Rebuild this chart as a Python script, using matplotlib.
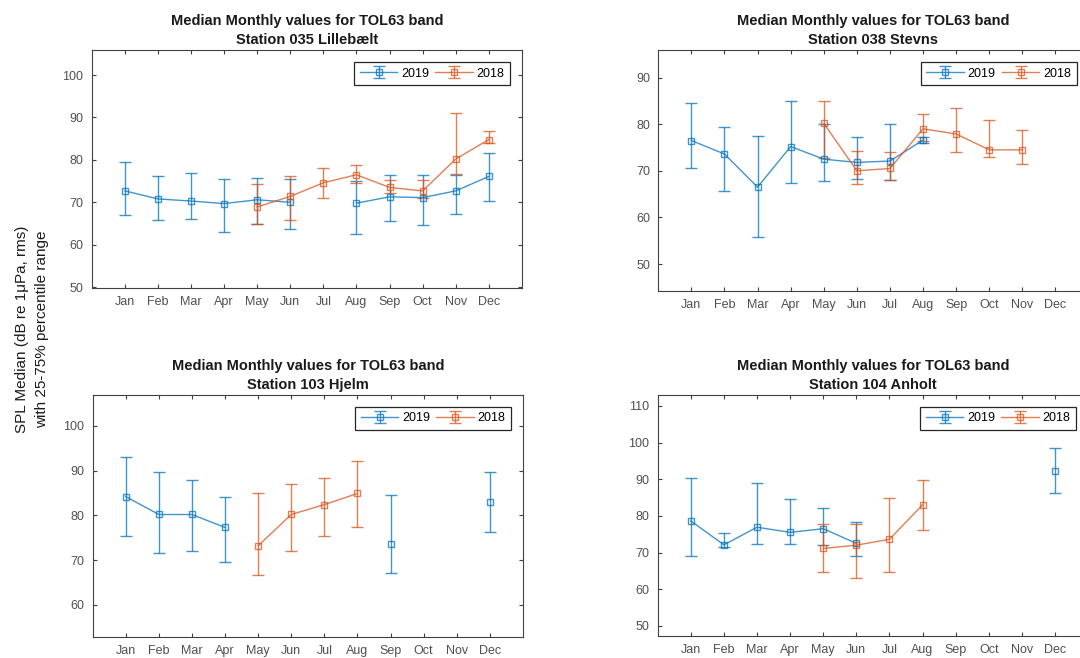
import matplotlib
matplotlib.use("Agg")
import matplotlib.pyplot as plt
import numpy as np

nan = np.nan
months = ['Jan', 'Feb', 'Mar', 'Apr', 'May', 'Jun', 'Jul', 'Aug', 'Sep', 'Oct', 'Nov', 'Dec']
month_num = np.arange(1, 13)

# Station 035 Lillebaelt
lil_med19 = [72.7, 70.8, 70.3, 69.7, 70.6, 70.0, nan, 69.8, 71.3, 71.1, 72.7, 76.1]
lil_lo19 = [66.9, 65.9, 66.1, 63.0, 64.8, 63.7, nan, 62.6, 65.6, 64.7, 67.3, 70.2]
lil_hi19 = [79.5, 76.3, 76.8, 75.6, 75.7, 75.4, nan, 75.0, 76.5, 76.5, 76.4, 81.6]
lil_med18 = [nan, nan, nan, nan, 68.9, 71.4, 74.6, 76.5, 73.5, 72.7, 80.2, 84.8]
lil_lo18 = [nan, nan, nan, nan, 64.8, 65.8, 71.1, 74.6, 72.1, 71.0, 76.6, 83.9]
lil_hi18 = [nan, nan, nan, nan, 74.4, 76.3, 78.1, 78.9, 75.2, 75.2, 91.0, 86.7]

# Station 038 Stevns
ste_med19 = [76.5, 73.6, 66.5, 75.2, 72.5, 71.8, 72.1, 76.6, nan, nan, nan, nan]
ste_lo19 = [70.6, 65.7, 55.8, 67.3, 67.9, 68.2, 68.0, 76.0, nan, nan, nan, nan]
ste_hi19 = [84.5, 79.5, 77.5, 84.9, 80.0, 77.2, 80.1, 77.2, nan, nan, nan, nan]
ste_med18 = [nan, nan, nan, nan, 80.2, 70.0, 70.5, 79.0, 77.9, 74.5, 74.5, nan]
ste_lo18 = [nan, nan, nan, nan, 72.7, 67.2, 68.0, 76.5, 74.1, 73.0, 71.5, nan]
ste_hi18 = [nan, nan, nan, nan, 84.9, 74.3, 74.0, 82.1, 83.4, 80.8, 78.8, nan]

# Station 103 Hjelm
hje_med19 = [84.2, 80.2, 80.2, 77.3, nan, nan, nan, nan, 73.6, nan, nan, 82.9]
hje_lo19 = [75.4, 71.7, 72.0, 69.6, nan, nan, nan, nan, 67.1, nan, nan, 76.2]
hje_hi19 = [93.0, 89.6, 87.9, 84.2, nan, nan, nan, nan, 84.5, nan, nan, 89.8]
hje_med18 = [nan, nan, nan, nan, 73.2, 80.2, 82.4, 84.9, nan, nan, nan, nan]
hje_lo18 = [nan, nan, nan, nan, 66.7, 72.1, 75.5, 77.4, nan, nan, nan, nan]
hje_hi18 = [nan, nan, nan, nan, 84.9, 87.1, 88.3, 92.1, nan, nan, nan, nan]

# Station 104 Anholt
anh_med19 = [78.6, 72.1, 76.9, 75.5, 76.5, 72.5, nan, nan, nan, nan, nan, 92.3]
anh_lo19 = [69.0, 71.5, 72.3, 72.2, 72.0, 69.0, nan, nan, nan, nan, nan, 86.2]
anh_hi19 = [90.4, 75.4, 89.1, 84.6, 82.1, 78.2, nan, nan, nan, nan, nan, 98.4]
anh_med18 = [nan, nan, nan, nan, 71.1, 72.0, 73.6, 83.0, nan, nan, nan, nan]
anh_lo18 = [nan, nan, nan, nan, 64.7, 63.0, 64.7, 76.1, nan, nan, nan, nan]
anh_hi18 = [nan, nan, nan, nan, 77.8, 77.8, 85.0, 89.7, nan, nan, nan, nan]

plt.rcParams['font.family'] = ['Liberation Sans', 'DejaVu Sans']

blue = '#0072BD'
orange = '#D95319'
grey = '#404040'


def draw_panel(ax, station, med19, lo19, hi19, med18, lo18, hi18, ylim, yticks):
    for med, lo, hi, col, lab in [(med19, lo19, hi19, blue, '2019'),
                                  (med18, lo18, hi18, orange, '2018')]:
        med = np.array(med)
        err = [med - np.array(lo), np.array(hi) - med]
        ax.errorbar(month_num, med, yerr=err, color=col, marker='s', ms=5,
                    mfc='none', mew=1, lw=1, capsize=4, elinewidth=1,
                    alpha=0.75, label=lab)
    ax.set_xlim(0, 13)
    ax.set_ylim(*ylim)
    ax.set_xticks(month_num)
    ax.set_xticklabels(months)
    ax.set_yticks(yticks)
    ax.tick_params(direction='in', top=True, right=True, labelsize=9,
                   color=grey, labelcolor='#505050', length=3, width=0.8, pad=6)
    for s in ax.spines.values():
        s.set_color(grey)
        s.set_linewidth(0.8)
    ax.set_title('Median Monthly values for TOL63 band\n' + station,
                 fontsize=10.5, fontweight='bold', linespacing=1.5, pad=4,
                 color='#1a1a1a')
    leg = ax.legend(loc='upper right', ncol=2, fontsize=9, fancybox=False,
                    framealpha=1, edgecolor='#262626', handlelength=3.0,
                    handletextpad=0.3, columnspacing=0.5, borderpad=0.45,
                    borderaxespad=0.95)
    leg.get_frame().set_linewidth(0.9)


fig = plt.figure(figsize=(10.8, 6.58), dpi=100)
ax1 = fig.add_axes([0.0849, 0.5623, 0.3984, 0.3617])
ax2 = fig.add_axes([0.6095, 0.5582, 0.3984, 0.3658])
ax3 = fig.add_axes([0.0858, 0.0324, 0.3984, 0.3673])
ax4 = fig.add_axes([0.6090, 0.0334, 0.3984, 0.3663])

draw_panel(ax1, 'Station 035 Lillebælt', lil_med19, lil_lo19, lil_hi19,
           lil_med18, lil_lo18, lil_hi18, (49.8, 105.9), range(50, 101, 10))
draw_panel(ax2, 'Station 038 Stevns', ste_med19, ste_lo19, ste_hi19,
           ste_med18, ste_lo18, ste_hi18, (44.3, 95.9), range(50, 91, 10))
draw_panel(ax3, 'Station 103 Hjelm', hje_med19, hje_lo19, hje_hi19,
           hje_med18, hje_lo18, hje_hi18, (52.9, 106.9), range(60, 101, 10))
draw_panel(ax4, 'Station 104 Anholt', anh_med19, anh_lo19, anh_hi19,
           anh_med18, anh_lo18, anh_hi18, (47.2, 113.0), range(50, 111, 10))

fig.text(0.0295, 0.5, 'SPL Median (dB re 1μPa, rms)\nwith 25-75% percentile range',
         rotation=90, ha='center', va='center', fontsize=11, color='#1a1a1a',
         linespacing=1.55)

fig.savefig('out.png', dpi=100)
